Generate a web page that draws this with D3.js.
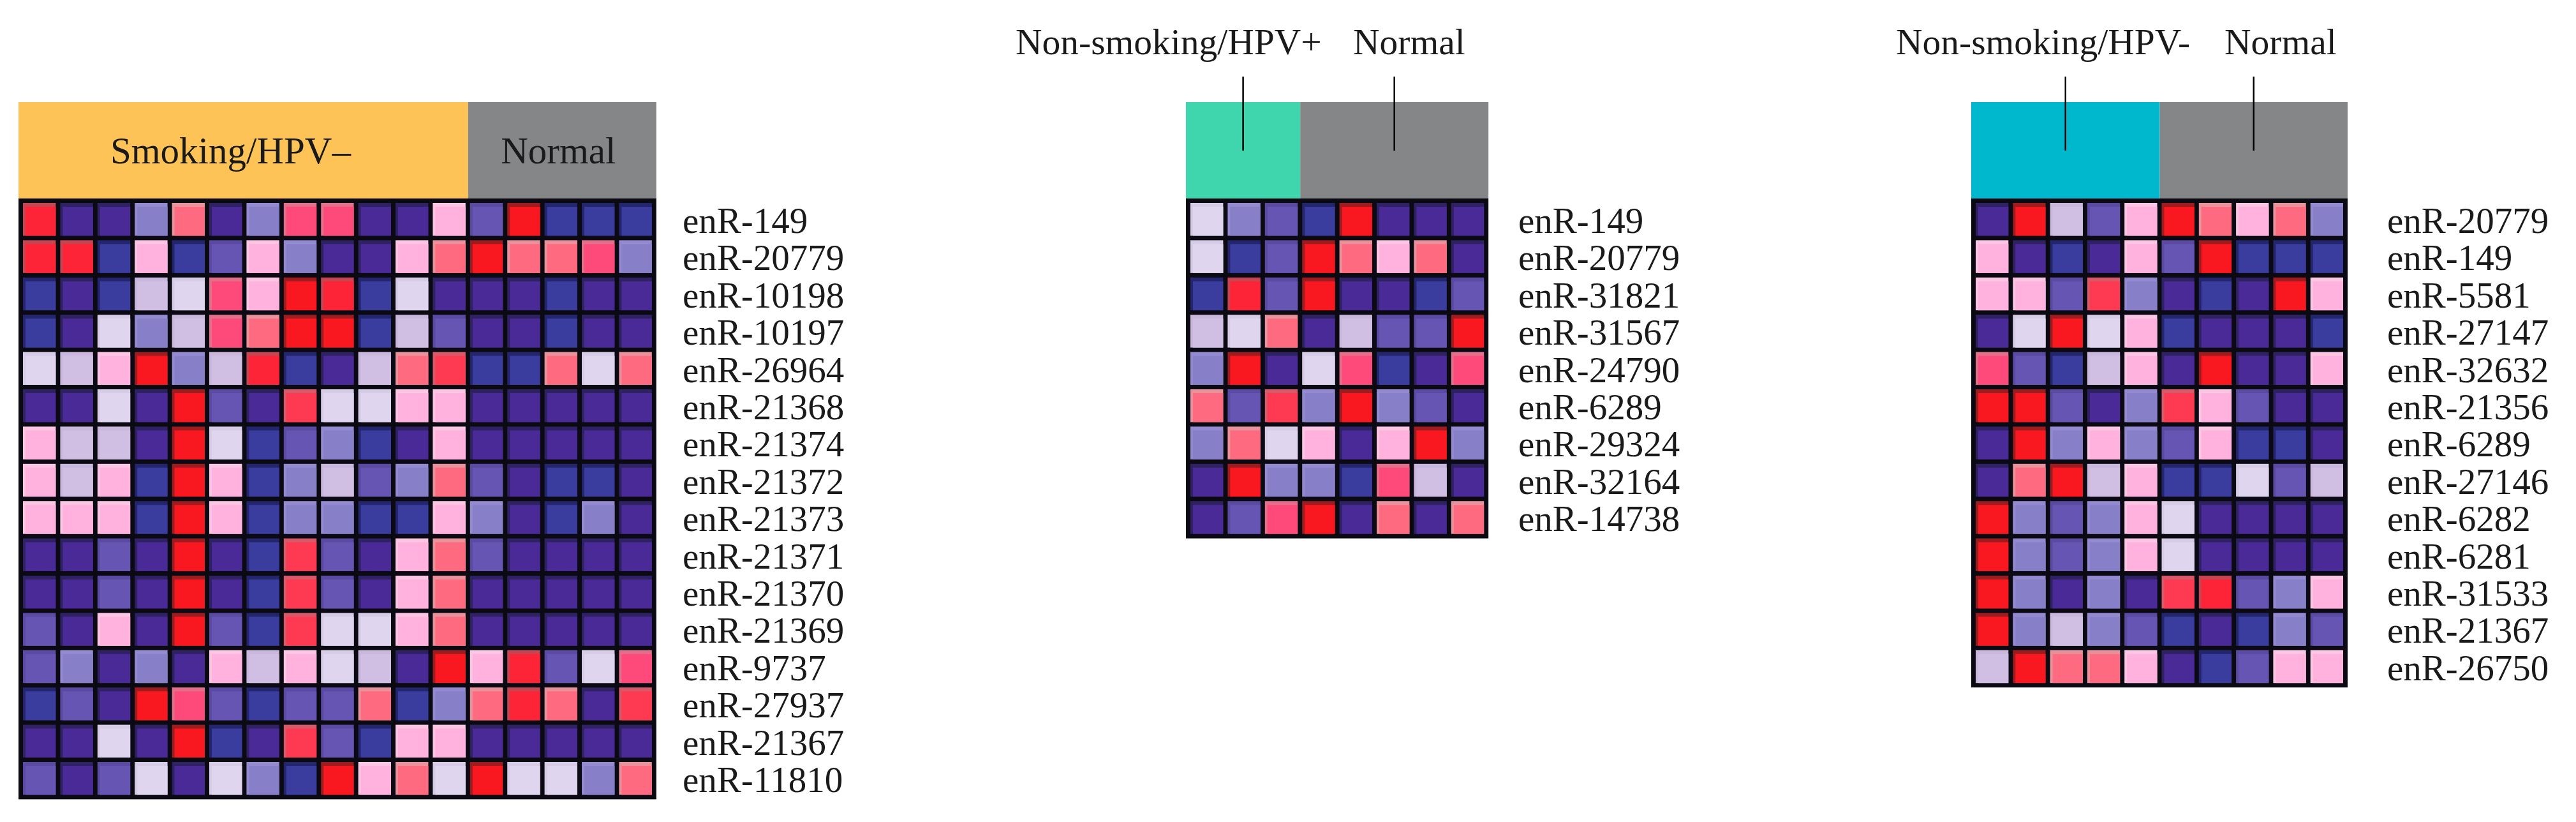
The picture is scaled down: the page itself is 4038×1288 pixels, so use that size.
<!DOCTYPE html>
<html>
<head>
<meta charset="utf-8">
<script src="https://cdn.jsdelivr.net/npm/d3@7"></script>
<style>
html,body{margin:0;padding:0;background:#fff;}
svg{display:block;}
text{font-family:"Liberation Serif","Times New Roman",serif;fill:#1a1a1a;}
</style>
</head>
<body>
<svg id="chart" width="4038" height="1288"></svg>
<script>
// ---------- DATA (expression level 0 = lowest (blue) ... 11 = highest (red)) ----------
const rows1 = ["enR-149","enR-20779","enR-10198","enR-10197","enR-26964","enR-21368","enR-21374","enR-21372","enR-21373","enR-21371","enR-21370","enR-21369","enR-9737","enR-27937","enR-21367","enR-11810"];
const groups1 = ["Smoking/HPV–","Normal"];
const groupSizes1 = [12,5];
const values1 = [
  [10,1,1,3,7,1,3,8,8,1,1,6,2,11,0,0,0],
  [10,10,0,6,0,2,6,3,1,1,6,7,11,7,7,8,3],
  [0,1,0,4,5,8,6,11,10,0,5,1,1,1,0,1,1],
  [0,1,5,3,4,8,7,11,11,0,4,2,1,1,0,1,1],
  [5,4,6,11,3,4,10,0,1,4,7,9,0,0,7,5,7],
  [1,1,5,1,11,2,1,9,5,5,6,6,1,1,1,1,1],
  [6,4,4,1,11,5,0,2,3,0,1,6,1,1,1,1,1],
  [6,4,6,0,11,6,0,3,4,2,3,7,2,1,0,0,1],
  [6,6,6,0,11,6,0,3,3,0,0,6,3,1,0,3,1],
  [1,1,2,1,11,1,0,9,2,1,6,7,2,1,1,1,1],
  [1,1,2,1,11,1,0,9,2,1,6,7,1,1,1,1,1],
  [2,1,6,1,11,2,0,9,5,5,6,7,1,1,1,1,1],
  [2,3,1,3,1,6,4,6,5,4,1,11,6,10,2,5,8],
  [0,2,1,11,8,2,0,2,2,7,0,3,7,10,7,1,9],
  [1,1,5,1,11,0,1,9,2,0,6,6,1,1,1,1,1],
  [2,1,2,5,1,5,3,0,11,6,7,5,11,5,5,3,7]
];

const rows2 = ["enR-149","enR-20779","enR-31821","enR-31567","enR-24790","enR-6289","enR-29324","enR-32164","enR-14738"];
const groups2 = ["Non-smoking/HPV+","Normal"];
const groupSizes2 = [3,5];
const values2 = [
  [5,3,2,0,11,1,1,1],
  [5,0,2,11,7,6,7,1],
  [0,10,2,11,1,1,0,2],
  [4,5,7,1,4,2,2,11],
  [3,11,1,5,8,0,1,8],
  [7,2,9,3,11,3,2,1],
  [3,7,5,6,1,6,11,3],
  [1,11,3,3,0,8,4,1],
  [1,2,8,11,1,7,1,7]
];

const rows3 = ["enR-20779","enR-149","enR-5581","enR-27147","enR-32632","enR-21356","enR-6289","enR-27146","enR-6282","enR-6281","enR-31533","enR-21367","enR-26750"];
const groups3 = ["Non-smoking/HPV-","Normal"];
const groupSizes3 = [5,5];
const values3 = [
  [1,11,4,2,6,11,7,6,7,3],
  [6,1,0,1,6,2,11,0,0,0],
  [6,6,2,9,3,1,0,1,11,6],
  [1,5,11,5,6,0,1,1,1,0],
  [8,2,0,4,6,1,11,1,1,6],
  [11,11,2,1,3,9,6,2,1,1],
  [1,11,3,6,3,2,6,0,0,1],
  [1,7,11,4,6,0,0,5,2,4],
  [11,3,2,3,6,5,1,1,1,1],
  [11,3,2,3,6,5,1,1,1,1],
  [11,3,1,3,1,9,10,2,3,6],
  [11,3,4,3,2,0,1,0,3,2],
  [4,11,7,7,6,1,0,2,6,6]
];

// ---------- STYLE ----------
const palette = ["#3a3c9e","#4a2a96","#6655b2","#8780c8","#d1bfe3","#dfd5ef","#feb2dd","#fe6b80","#fe4a7a","#fe3a52","#fe2438","#fa1820"];
const bandPalette = ["#23266c","#2f2262","#5a4aa2","#948ad0","#c9b8dc","#d6cce6","#fbc6e4","#e8929c","#e2708a","#d65a6a","#c44652","#9c1c20"];
const color = d3.scaleQuantize().domain([-0.5, 11.5]).range(palette);
const bandColor = d3.scaleQuantize().domain([-0.5, 11.5]).range(bandPalette);

const panels = [
  {rows: rows1, values: values1, groups: groups1, sizes: groupSizes1,
   x0: 29, colStep: 58.4, headColors: ["#fec356","#858688"], labelX: 1070,
   headerMode: "inside", headOffsets: [-20, -6]},
  {rows: rows2, values: values2, groups: groups2, sizes: groupSizes2,
   x0: 1859, colStep: 58.4, headColors: ["#3fd5ad","#858688"], labelX: 2380,
   headerMode: "above", headAnchors: [{x:1592, anchor:"start"},{x:2121, anchor:"start"}]},
  {rows: rows3, values: values3, groups: groups3, sizes: groupSizes3,
   x0: 3090, colStep: 58.3, headColors: ["#00b8ce","#858688"], labelX: 3742,
   headerMode: "above", headAnchors: [{x:2972, anchor:"start"},{x:3487, anchor:"start"}]}
];

const headTop = 160, heatTop = 311, rowStep = 58.4, border = 7;
const svg = d3.select("#chart");
svg.append("rect").attr("width",4038).attr("height",1288).attr("fill","#fff");

panels.forEach(p => {
  const ncol = p.values[0].length;
  const cols = d3.range(ncol);
  const x = d3.scaleBand().domain(cols).range([p.x0, p.x0 + ncol*p.colStep]).paddingInner(0).paddingOuter(0);
  const y = d3.scaleBand().domain(p.rows).range([heatTop, heatTop + p.rows.length*rowStep]).padding(0);
  const g = svg.append("g");
  const right = p.x0 + ncol*p.colStep + border;
  const bottom = heatTop + p.rows.length*rowStep + border;

  // header bar
  let start = 0;
  const bounds = p.sizes.map((s,i) => {
    const a = i === 0 ? p.x0 : x(start) + 4;
    const b = i === p.sizes.length-1 ? right : x(start+s) + 4;
    start += s;
    return [a,b];
  });
  bounds.forEach((b,i) => {
    g.append("rect").attr("x", b[0]).attr("y", headTop).attr("width", b[1]-b[0]).attr("height", heatTop-headTop)
      .attr("fill", p.headColors[i]);
  });
  if (p.headerMode === "inside") {
    bounds.forEach((b,i) => {
      g.append("text").attr("x", (b[0]+b[1])/2 + p.headOffsets[i]).attr("y", 256)
        .attr("text-anchor","middle").attr("font-size", 59).text(p.groups[i]);
    });
  } else {
    bounds.forEach((b,i) => {
      const cx = (b[0]+b[1])/2;
      g.append("line").attr("x1", cx).attr("x2", cx).attr("y1", 120).attr("y2", 236)
        .attr("stroke","#000").attr("stroke-width", 2.5);
      g.append("text").attr("x", p.headAnchors[i].x).attr("y", 85)
        .attr("text-anchor", p.headAnchors[i].anchor).attr("font-size", 57.5).text(p.groups[i]);
    });
  }

  // heatmap background (grid lines)
  g.append("rect").attr("x", p.x0).attr("y", heatTop).attr("width", right - p.x0).attr("height", bottom - heatTop)
    .attr("fill", "#0b0a12");

  const cells = [];
  p.rows.forEach((r, ri) => p.values[ri].forEach((v, ci) => cells.push({r, c: ci, v})));
  const cg = g.selectAll("g.cell").data(cells).join("g").attr("class","cell");
  cg.append("rect")
    .attr("x", d => x(d.c) + 7).attr("y", d => y(d.r) + 7)
    .attr("width", x.bandwidth() - 7).attr("height", y.bandwidth() - 7)
    .attr("fill", d => bandColor(d.v));
  cg.append("rect")
    .attr("x", d => x(d.c) + 11).attr("y", d => y(d.r) + 13)
    .attr("width", x.bandwidth() - 11).attr("height", y.bandwidth() - 13)
    .attr("fill", d => color(d.v));

  // row labels
  g.selectAll("text.row").data(p.rows).join("text").attr("class","row")
    .attr("x", p.labelX).attr("y", d => y(d) + 54)
    .attr("font-size", 57).text(d => d);
});
</script>
</body>
</html>
